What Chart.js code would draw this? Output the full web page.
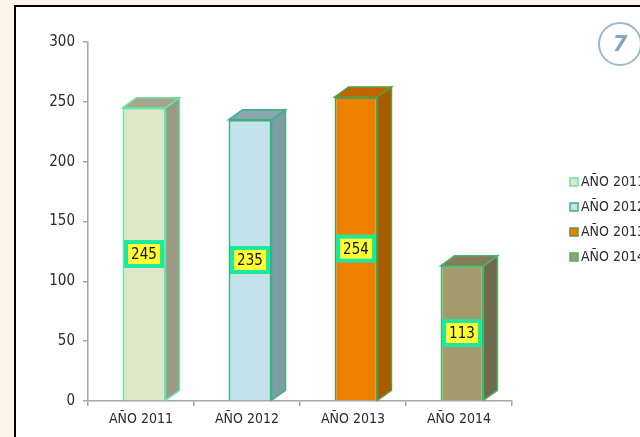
<!DOCTYPE html>
<html>
<head>
<meta charset="utf-8">
<script src="https://cdn.jsdelivr.net/npm/chart.js@4.4.1/dist/chart.umd.min.js"></script>
<style>
  html, body { margin: 0; padding: 0; }
  body { width: 640px; height: 437px; background: #fdf5ec; position: relative; overflow: hidden; }
  #frame { position: absolute; left: 14px; top: 5px; width: 660px; height: 460px; border: 2px solid #000; background: #fff; }
  #chart { position: absolute; left: 0; top: 0; }
  #badge { position: absolute; left: 598px; top: 22px; width: 40px; height: 40px; border: 2px solid #9bb8cc; border-radius: 50%;
           font: italic bold 21px "DejaVu Sans", sans-serif; color: #86a6bc; text-align: center; line-height: 40px; }
</style>
</head>
<body>
<div id="frame"></div>
<canvas id="chart" width="640" height="437"></canvas>
<div id="badge">7</div>
<script>
const categories = ['AÑO 2011', 'AÑO 2012', 'AÑO 2013', 'AÑO 2014'];
const values = [245, 235, 254, 113];
const yTickValues = [0, 50, 100, 150, 200, 250, 300];

// colours per bar: front, side, top, outline
const frontColors = ['#dfe6c9', '#c3e2ea', '#ef8000', '#a39a6e'];
const sideColors = ['#9a9a86', '#7e9ea4', '#a85a00', '#6f6a4b'];
const topColors = ['#a8a48e', '#8ba6ad', '#c06600', '#857d5a'];
const edgeColors = ['#66e6a6', '#3daf86', '#5a9a40', '#4ab46a'];

const font = "'DejaVu Sans Condensed', 'Liberation Sans Narrow', 'DejaVu Sans', sans-serif";
const axisGray = '#a6a6a6';
const depthX = 14, depthY = 10, barShift = 3;

const bar3d = {
  id: 'bar3d',
  beforeDatasetsDraw(chart) {
    const ctx = chart.ctx;
    ctx.save();
    ctx.translate(barShift, 0);
    chart.getDatasetMeta(0).data.forEach((bar, i) => {
      const p = bar.getProps(['x', 'y', 'base', 'width'], true);
      const l = p.x - p.width / 2, r = p.x + p.width / 2;
      ctx.lineWidth = 1.5;
      ctx.strokeStyle = edgeColors[i];
      // side
      ctx.beginPath();
      ctx.moveTo(r, p.y);
      ctx.lineTo(r + depthX, p.y - depthY);
      ctx.lineTo(r + depthX, p.base - depthY);
      ctx.lineTo(r, p.base);
      ctx.closePath();
      ctx.fillStyle = sideColors[i];
      ctx.fill();
      ctx.stroke();
      // top
      ctx.beginPath();
      ctx.moveTo(l, p.y);
      ctx.lineTo(l + depthX, p.y - depthY);
      ctx.lineTo(r + depthX, p.y - depthY);
      ctx.lineTo(r, p.y);
      ctx.closePath();
      ctx.fillStyle = topColors[i];
      ctx.fill();
      ctx.stroke();
    });
  },
  afterDatasetsDraw(chart) {
    const ctx = chart.ctx;
    chart.getDatasetMeta(0).data.forEach((bar, i) => {
      const p = bar.getProps(['x', 'y', 'base'], true);
      const cy = (p.y + p.base) / 2;
      const w = 40, h = 28;
      ctx.fillStyle = '#1ee89c';
      ctx.fillRect(p.x - w / 2, cy - h / 2, w, h);
      ctx.fillStyle = '#ffff33';
      ctx.fillRect(p.x - w / 2 + 4, cy - h / 2 + 4, w - 8, h - 8);
      ctx.fillStyle = '#111';
      ctx.font = '15px ' + font;
      ctx.textAlign = 'center';
      ctx.textBaseline = 'middle';
      ctx.fillText(String(values[i]), p.x, cy + 1);
    });
    ctx.restore();
  },
  afterDraw(chart) {
    // legend, cut off by the right edge like the original
    const ctx = chart.ctx;
    ctx.save();
    ctx.font = '14px ' + font;
    ctx.textAlign = 'left';
    ctx.textBaseline = 'middle';
    categories.forEach((c, i) => {
      const y = 182 + i * 25;
      ctx.fillStyle = frontColors[i];
      ctx.fillRect(570, y - 4, 8, 8);
      ctx.strokeStyle = edgeColors[i];
      ctx.lineWidth = 1.5;
      ctx.strokeRect(570, y - 4, 8, 8);
      ctx.fillStyle = '#2b2b2b';
      ctx.fillText(c, 581, y);
    });
    ctx.restore();
  }
};

new Chart(document.getElementById('chart'), {
  type: 'bar',
  data: {
    labels: categories,
    datasets: [{
      data: values,
      backgroundColor: frontColors,
      borderColor: edgeColors,
      borderWidth: 2,
      barPercentage: 0.81,
      categoryPercentage: 0.5,
      clip: false
    }]
  },
  options: {
    responsive: false,
    animation: false,
    layout: { padding: { top: 42, right: 128, bottom: 0, left: 0 } },
    plugins: { legend: { display: false }, tooltip: { enabled: false } },
    scales: {
      x: {
        afterFit: s => { s.height = 36; },
        grid: { drawOnChartArea: false, tickLength: 5, color: axisGray, lineWidth: 1.5, offset: true },
        border: { color: axisGray, width: 1.5 },
        ticks: { font: { family: font, size: 14 }, color: '#2b2b2b', padding: 5 }
      },
      y: {
        min: 0,
        max: 300,
        afterFit: s => { s.width = 88; },
        afterBuildTicks: s => { s.ticks = yTickValues.map(v => ({ value: v })); },
        grid: { drawOnChartArea: false, tickLength: 5, color: axisGray, lineWidth: 1.5 },
        border: { color: axisGray, width: 1.5 },
        ticks: { font: { family: font, size: 15 }, color: '#2b2b2b', padding: 8 }
      }
    }
  },
  plugins: [bar3d]
});
</script>
</body>
</html>
